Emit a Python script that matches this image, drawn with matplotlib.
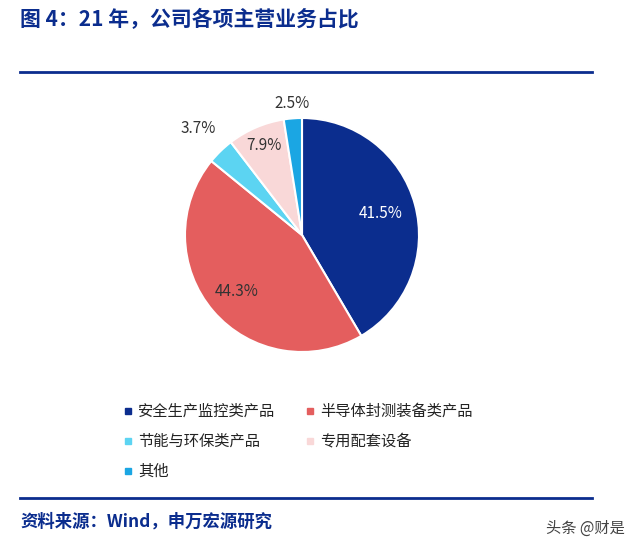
import numpy as np
import matplotlib
matplotlib.use("Agg")
import matplotlib.pyplot as plt
from matplotlib.patches import Rectangle

plt.rcParams["font.family"] = ["Noto Sans CJK SC", "DejaVu Sans"]

categories = ["安全生产监控类产品", "半导体封测装备类产品", "节能与环保类产品", "专用配套设备", "其他"]
values = [41.5, 44.3, 3.7, 7.9, 2.5]
colors = ["#0b2d8e", "#e45e5e", "#5cd4f2", "#f9d8d8", "#1ba6e3"]
label_r = [0.70, 0.74, 1.27, 0.83, 1.13]
label_c = ["white", "#333333", "#333333", "#333333", "#333333"]

W, H = 640, 549
fig = plt.figure(figsize=(6.4, 5.49), dpi=100)

def fx(x): return x / W
def fy(y): return 1 - y / H

fig.text(fx(20), fy(20), "图 4：21 年，公司各项主营业务占比", fontsize=15, fontweight="bold",
         color="#0b2d8e", va="center", ha="left")
fig.add_artist(plt.Line2D([fx(20), fx(592)], [fy(72), fy(72)], color="#0b2d8e", lw=2))
fig.add_artist(plt.Line2D([fx(20), fx(592)], [fy(498), fy(498)], color="#0b2d8e", lw=2))
fig.text(fx(20), fy(522), "资料来源：Wind，申万宏源研究", fontsize=12.5, fontweight="bold",
         color="#0b2d8e", va="center", ha="left")
fig.text(fx(625), fy(528), "头条 @财是", fontsize=11, color="#444444", va="center", ha="right")

cx, cy, r = 302, 235, 117
ax = fig.add_axes([fx(cx - r), fy(cy + r), 2 * r / W, 2 * r / H])
wedges, _ = ax.pie(values, colors=colors, startangle=90, counterclock=False,
                   wedgeprops=dict(edgecolor="white", linewidth=1.5))
ax.set_xlim(-1, 1); ax.set_ylim(-1, 1); ax.set_aspect("auto")
for w, v, lr, lc in zip(wedges, values, label_r, label_c):
    a = np.deg2rad((w.theta1 + w.theta2) / 2)
    ax.text(lr * np.cos(a), lr * np.sin(a), f"{v}%", ha="center", va="center",
            fontsize=11, color=lc, clip_on=False)

pos = [(128, 411), (310, 411), (128, 441), (310, 441), (128, 471)]
for (x, y), c, t in zip(pos, colors, categories):
    fig.add_artist(Rectangle((fx(x - 3), fy(y + 3)), 6 / W, 6 / H, color=c,
                             transform=fig.transFigure))
    fig.text(fx(x + 10), fy(y), t, fontsize=11, color="#222222", va="center", ha="left")

fig.savefig("out.png", dpi=100)
